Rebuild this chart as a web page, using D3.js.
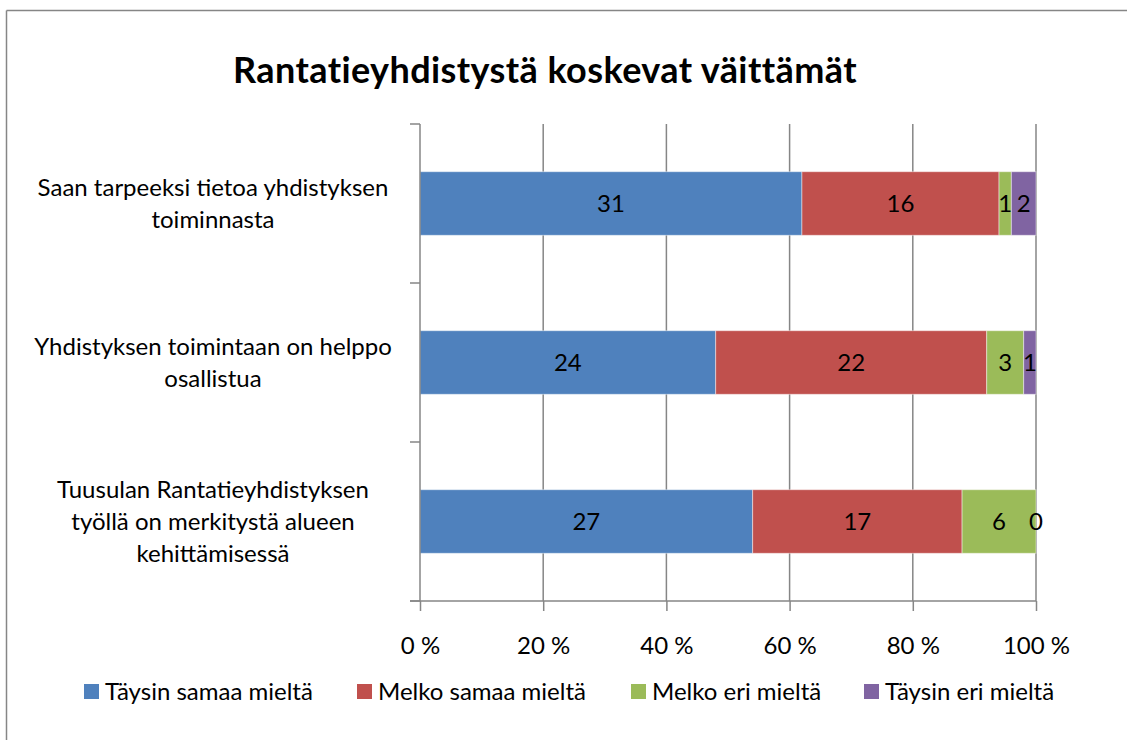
<!DOCTYPE html>
<html>
<head>
<meta charset="utf-8">
<script src="https://cdn.jsdelivr.net/npm/d3@7"></script>
<style>
  html, body { margin: 0; padding: 0; background: #fff; overflow: hidden; }
  svg { display: block; }
  text { font-family: Lato, "Open Sans", sans-serif; fill: #000; }
</style>
</head>
<body>
<div id="chart"></div>
<script>
(() => {
  // Chart data
  const categories = [
    "Saan tarpeeksi tietoa yhdistyksen toiminnasta",
    "Yhdistyksen toimintaan on helppo osallistua",
    "Tuusulan Rantatieyhdistyksen työllä on merkitystä alueen kehittämisessä",
  ];
  const categoryLines = [
    ["Saan tarpeeksi tietoa yhdistyksen", "toiminnasta"],
    ["Yhdistyksen toimintaan on helppo", "osallistua"],
    ["Tuusulan Rantatieyhdistyksen", "työllä on merkitystä alueen", "kehittämisessä"],
  ];
  const seriesNames = [
    "Täysin samaa mieltä",
    "Melko samaa mieltä",
    "Melko eri mieltä",
    "Täysin eri mieltä",
  ];
  const taysinSamaa = [31, 24, 27];
  const melkoSamaa = [16, 22, 17];
  const melkoEri = [1, 3, 6];
  const taysinEri = [2, 1, 0];
  const tickValues = [0, 0.2, 0.4, 0.6, 0.8, 1];
  const colors = ["#4F81BD", "#C0504D", "#9BBB59", "#8064A2"];

  const W = 1127, H = 740;
  const plot = { left: 420, right: 1036, top: 124, bottom: 601 };
  const fs = "24px";

  const svg = d3
    .select("#chart")
    .append("svg")
    .attr("width", W)
    .attr("height", H);

  // Outer chart border: only top and left edges are in view
  const border = svg.append("g").attr("stroke", "#868686").attr("stroke-width", 1.5);
  border.append("line").attr("x1", 6.5).attr("x2", W).attr("y1", 10.5).attr("y2", 10.5);
  border.append("line").attr("x1", 6.5).attr("x2", 6.5).attr("y1", 10.5).attr("y2", H);

  // Build rows as percentages
  const series = [taysinSamaa, melkoSamaa, melkoEri, taysinEri];
  const rows = categories.map((c, i) => {
    const vals = series.map((s) => s[i]);
    const total = d3.sum(vals);
    let acc = 0;
    return {
      cat: c,
      segs: vals.map((v, k) => {
        const seg = { key: seriesNames[k], value: v, x0: acc / total, x1: (acc + v) / total, k };
        acc += v;
        return seg;
      }),
    };
  });

  const x = d3.scaleLinear().domain([0, 1]).range([plot.left, plot.right]);
  const y = d3
    .scaleBand()
    .domain(categories)
    .range([plot.top, plot.bottom])
    .paddingInner(0.6)
    .paddingOuter(0.3);
  const yOuter = d3.scaleBand().domain(categories).range([plot.top, plot.bottom]);

  // Title
  svg
    .append("text")
    .attr("x", 545)
    .attr("y", 83)
    .attr("text-anchor", "middle")
    .style("font-size", "36px")
    .style("font-weight", "bold")
    .style("letter-spacing", "0.4px")
    .text("Rantatieyhdistystä koskevat väittämät");

  // Vertical gridlines
  svg
    .append("g")
    .selectAll("line")
    .data(tickValues.slice(1))
    .join("line")
    .attr("x1", (d) => x(d))
    .attr("x2", (d) => x(d))
    .attr("y1", plot.top)
    .attr("y2", plot.bottom)
    .attr("stroke", "#868686")
    .attr("stroke-width", 1.5);

  // Bars
  const rowG = svg
    .append("g")
    .selectAll("g")
    .data(rows)
    .join("g")
    .attr("transform", (d) => `translate(0,${y(d.cat)})`);

  rowG
    .selectAll("rect")
    .data((d) => d.segs)
    .join("rect")
    .attr("x", (d) => x(d.x0))
    .attr("width", (d) => x(d.x1) - x(d.x0))
    .attr("height", y.bandwidth())
    .attr("fill", (d) => colors[d.k])
    .attr("stroke", "rgba(255,255,255,0.45)")
    .attr("stroke-width", 1);

  rowG
    .selectAll("text")
    .data((d) => d.segs)
    .join("text")
    .attr("x", (d) => (x(d.x0) + x(d.x1)) / 2)
    .attr("y", y.bandwidth() / 2)
    .attr("dy", "0.36em")
    .attr("text-anchor", "middle")
    .style("font-size", fs)
    .text((d) => d.value);

  // Y axis
  const yAxisG = svg.append("g");
  yAxisG
    .append("line")
    .attr("x1", plot.left)
    .attr("x2", plot.left)
    .attr("y1", plot.top)
    .attr("y2", plot.bottom)
    .attr("stroke", "#868686")
    .attr("stroke-width", 1.5);
  const yTicks = categories.map((c) => yOuter(c)).concat([plot.bottom]);
  yAxisG
    .selectAll(".yt")
    .data(yTicks)
    .join("line")
    .attr("x1", plot.left - 10)
    .attr("x2", plot.left)
    .attr("y1", (d) => d)
    .attr("y2", (d) => d)
    .attr("stroke", "#868686")
    .attr("stroke-width", 1.5);

  // Category labels
  const catG = svg
    .append("g")
    .selectAll("text")
    .data(categories)
    .join("text")
    .attr("text-anchor", "middle")
    .style("font-size", fs);
  catG.each(function (c, i) {
    const lines = categoryLines[i];
    const cy = y(c) + y.bandwidth() / 2;
    const lh = 32;
    d3.select(this)
      .selectAll("tspan")
      .data(lines)
      .join("tspan")
      .attr("x", 213)
      .attr("y", (d, j) => cy + (j - (lines.length - 1) / 2) * lh)
      .attr("dy", "0.36em")
      .text((d) => d);
  });

  // X axis
  const xAxis = d3
    .axisBottom(x)
    .tickValues(tickValues)
    .tickSize(10)
    .tickSizeOuter(0)
    .tickPadding(26)
    .tickFormat((d) => `${Math.round(d * 100)} %`);
  const xAxisG = svg
    .append("g")
    .attr("transform", `translate(0,${plot.bottom})`)
    .call(xAxis);
  xAxisG.select(".domain").remove();
  xAxisG
    .append("line")
    .attr("x1", plot.left - 10)
    .attr("x2", plot.right)
    .attr("stroke", "#868686")
    .attr("stroke-width", 1.5);
  xAxisG.selectAll(".tick line").attr("stroke", "#868686").attr("stroke-width", 1.5);
  xAxisG
    .selectAll(".tick text")
    .style("font-size", fs)
    .attr("fill", "#000")
    .style("font-family", "Lato, 'Open Sans', sans-serif");

  // Legend
  const legendX = [84, 357, 631, 864];
  const legend = svg
    .append("g")
    .selectAll("g")
    .data(seriesNames)
    .join("g")
    .attr("transform", (d, i) => `translate(${legendX[i]},684)`);
  legend
    .append("rect")
    .attr("width", 15)
    .attr("height", 15)
    .attr("fill", (d, i) => colors[i]);
  legend
    .append("text")
    .attr("x", 21)
    .attr("y", 7.5)
    .attr("dy", "0.36em")
    .style("font-size", fs)
    .text((d) => d);
})();
</script>
</body>
</html>
